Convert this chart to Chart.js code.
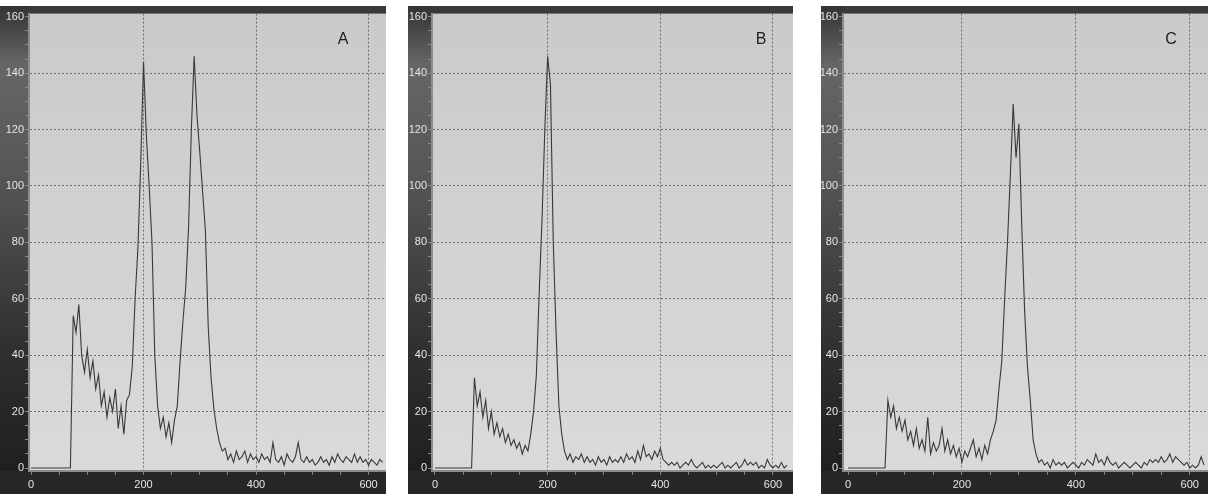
<!DOCTYPE html>
<html>
<head>
<meta charset="utf-8">
<script src="https://cdn.jsdelivr.net/npm/chart.js@4.4.1/dist/chart.umd.min.js"></script>
<style>
  body { margin:0; background:#fff; width:1214px; height:494px; overflow:hidden; position:relative; }
  .panel { position:absolute; top:6px; }
</style>
</head>
<body>
<div class="panel" style="left:0px"><canvas id="chA" width="386" height="488"></canvas></div>
<div class="panel" style="left:408px"><canvas id="chB" width="385" height="488"></canvas></div>
<div class="panel" style="left:821px"><canvas id="chC" width="387" height="488"></canvas></div>
<script>
// channel numbers (x) and counts per histogram
const channels = [
  0,5,10,15,20,25,30,35,40,45,
  50,55,60,65,70,75,80,85,90,95,
  100,105,110,115,120,125,130,135,140,145,
  150,155,160,165,170,175,180,185,190,195,
  200,205,210,215,220,225,230,235,240,245,
  250,255,260,265,270,275,280,285,290,295,
  300,305,310,315,320,325,330,335,340,345,
  350,355,360,365,370,375,380,385,390,395,
  400,405,410,415,420,425,430,435,440,445,
  450,455,460,465,470,475,480,485,490,495,
  500,505,510,515,520,525,530,535,540,545,
  550,555,560,565,570,575,580,585,590,595,
  600,605,610,615,620,625
];
const countsA = [
  0,0,0,0,0,0,0,0,0,0,
  0,0,0,0,0,54,48,58,40,34,
  42,32,38,28,33,22,27,18,25,20,
  28,14,22,12,24,26,36,60,78,108,
  144,118,100,80,40,22,14,18,11,16,
  9,17,22,38,52,64,85,120,146,125,
  112,98,84,50,32,21,14,9,6,7,
  3,5,2,6,3,4,6,2,5,3,
  4,2,5,3,4,2,9,3,2,4,
  1,5,3,2,4,9,3,2,4,2,
  3,1,2,4,2,3,1,4,2,5,
  3,2,4,3,2,5,2,4,2,3,
  1,3,2,1,3,2
];
const countsB = [
  0,0,0,0,0,0,0,0,0,0,
  0,0,0,0,32,22,27,18,24,14,
  20,12,16,11,14,9,12,8,10,7,
  9,5,8,6,12,20,33,62,88,120,
  146,136,80,48,22,12,6,3,5,2,
  4,3,5,2,4,2,3,1,4,2,
  3,1,4,2,3,2,4,2,5,3,
  4,2,6,3,8,4,5,3,6,4,
  7,3,2,1,2,1,2,0,1,2,
  1,3,1,0,1,2,0,1,0,1,
  0,1,2,0,1,0,1,2,0,1,
  3,1,2,1,2,0,1,0,3,1,
  0,1,0,2,0,1
];
const countsC = [
  0,0,0,0,0,0,0,0,0,0,
  0,0,0,0,24,18,22,14,18,13,
  17,10,13,8,14,7,10,6,18,5,
  9,6,8,14,6,10,5,8,4,7,
  2,6,4,7,10,4,7,3,8,5,
  10,13,17,28,38,60,80,104,129,110,
  122,86,56,36,24,10,5,2,3,1,
  2,0,3,1,2,1,2,0,1,2,
  1,0,2,1,3,2,1,5,2,3,
  1,4,2,1,2,0,1,2,1,0,
  1,2,1,0,2,1,3,2,3,2,
  4,2,3,5,2,4,3,2,1,2,
  0,1,0,1,4,1
];
const xTicks = [0,50,100,150,200,250,300,350,400,450,500,550,600];
const xLabels = [0,200,400,600];
const yTicks = [0,5,10,15,20,25,30,35,40,45,50,55,60,65,70,75,80,85,90,95,100,105,110,115,120,125,130,135,140,145,150,155,160];
const yLabels = [0,20,40,60,80,100,120,140,160];
const panelLetters = ['A','B','C'];

const FONT = '"Liberation Sans", Arial, sans-serif';
const GRID = 'rgba(70,70,70,0.7)';

const framePlugin = {
  id:'frame',
  beforeDraw(chart){
    const {ctx, chartArea:a, width, height} = chart;
    ctx.save();
    let g = ctx.createLinearGradient(0,0,0,height);
    g.addColorStop(0,'#333');
    g.addColorStop(0.12,'#666');
    g.addColorStop(0.35,'#565656');
    g.addColorStop(0.7,'#303030');
    g.addColorStop(1,'#1c1c1c');
    ctx.fillStyle = g;
    ctx.fillRect(0,0,width,height);
    ctx.fillStyle = '#3a3a3a';
    ctx.fillRect(a.left,0,width-a.left,a.top);
    ctx.fillStyle = '#272727';
    ctx.fillRect(0,a.bottom,width,height-a.bottom);
    g = ctx.createLinearGradient(0,a.top,0,a.bottom);
    g.addColorStop(0,'#cacaca');
    g.addColorStop(1,'#dadada');
    ctx.fillStyle = g;
    ctx.fillRect(a.left,a.top,a.right-a.left,a.bottom-a.top);
    ctx.restore();
  },
  afterDraw(chart, args, opts){
    const {ctx, chartArea:a} = chart;
    ctx.save();
    ctx.fillStyle = '#1e1e1e';
    ctx.font = '16px ' + FONT;
    ctx.textAlign = 'center';
    ctx.textBaseline = 'middle';
    ctx.fillText(opts.letter, a.right - opts.letterRight, a.top + 26);
    ctx.restore();
  }
};

function makeChart(id, counts, letter, cfg){
  const pts = channels.map((c,i)=>({x:c, y:counts[i]}));
  return new Chart(document.getElementById(id), {
    type:'line',
    data:{ datasets:[{ data:pts, borderColor:'#383838', borderWidth:1.1, pointRadius:0, tension:0 }] },
    options:{
      responsive:false, animation:false, devicePixelRatio:1,
      layout:{ padding:{ top:6, right:0, left:0, bottom:0 } },
      plugins:{ legend:{display:false}, tooltip:{enabled:false}, frame:{ letter, letterRight:cfg.letterRight } },
      scales:{
        x:{
          type:'linear', min:cfg.xMin, max:cfg.xMax,
          afterBuildTicks:s=>{ s.ticks = xTicks.map(v=>({value:v})); },
          afterFit:s=>{ s.height = 23; },
          ticks:{ color:'#e6e6e6', font:{family:FONT, size:11}, padding:3, maxRotation:0, autoSkip:false,
            callback:v=> xLabels.includes(v) ? String(v) : '' },
          grid:{ color:c=> (c.tick && xLabels.includes(c.tick.value) && c.tick.value>0) ? GRID : 'transparent',
            tickColor:'#8a8a8a', tickLength:4, lineWidth:1 },
          border:{ color:'#8c8c8c', width:2, dash:[2,2] }
        },
        y:{
          min:-1.06, max:161.1,
          afterBuildTicks:s=>{ s.ticks = yTicks.map(v=>({value:v})); },
          afterFit:s=>{ s.width = cfg.yWidth; },
          ticks:{ color:'#e6e6e6', font:{family:FONT, size:11}, padding:1, autoSkip:false,
            callback:v=> yLabels.includes(v) ? String(v) : '' },
          grid:{ color:c=> (c.tick && yLabels.includes(c.tick.value) && c.tick.value>0 && c.tick.value<160) ? GRID : 'transparent',
            tickColor:'#8a8a8a', tickLength:4, lineWidth:1 },
          border:{ color:'#8c8c8c', width:2, dash:[2,2] }
        }
      }
    },
    plugins:[framePlugin]
  });
}

makeChart('chA', countsA, panelLetters[0], { xMin:-3.6, xMax:631, yWidth:29, letterRight:43 });
makeChart('chB', countsB, panelLetters[1], { xMin:-5.3, xMax:635.6, yWidth:24, letterRight:32 });
makeChart('chC', countsC, panelLetters[2], { xMin:-8.8, xMax:632, yWidth:22, letterRight:37 });
</script>
</body>
</html>
